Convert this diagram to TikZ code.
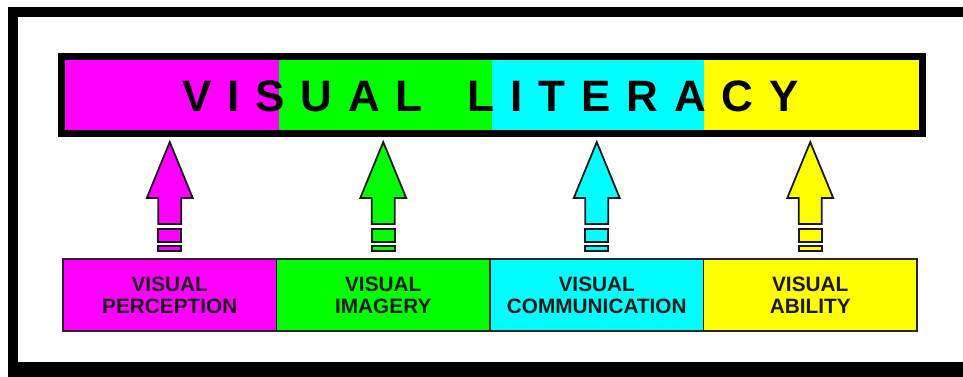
\documentclass[tikz,border=0pt]{standalone}
\usepackage{fontspec}
\setmainfont{Liberation Sans}
\usetikzlibrary{calc}
\definecolor{cMag}{RGB}{255,0,255}
\definecolor{cGrn}{RGB}{0,255,0}
\definecolor{cCyn}{RGB}{0,255,255}
\definecolor{cYel}{RGB}{255,255,0}
\tikzset{
  seg/.style={inner sep=0pt, minimum width=213.5pt, minimum height=70pt},
  box/.style={draw=black!85, line width=1.8pt, inner sep=0pt, minimum width=213.5pt, minimum height=72pt,
     align=center, font=\fontsize{20.8}{22}\selectfont\bfseries, text=black!90},
  arrline/.style={draw=black!90, line width=1.8pt, line join=miter},
}
\newcommand{\blockarr}[2]{%
  \draw[arrline, fill=#2] ($(#1.north)+(-11.5,34)$) -- ($(#1.north)+(-11.5,60)$) -- ($(#1.north)+(-23,60)$)
     -- ($(#1.north)+(0,116)$) -- ($(#1.north)+(23,60)$) -- ($(#1.north)+(11.5,60)$) -- ($(#1.north)+(11.5,34)$) -- cycle;
  \draw[arrline, fill=#2] ($(#1.north)+(-11.5,16)$) rectangle ($(#1.north)+(11.5,29)$);
  \draw[arrline, fill=#2] ($(#1.north)+(-11.5,7)$) rectangle ($(#1.north)+(11.5,12)$);
}
\begin{document}
\begin{tikzpicture}[x=1pt,y=1pt]
\useasboundingbox (0,0) rectangle (963,377);
\fill[white] (0,0) rectangle (963,377);
% outer frame
\fill[black] (8,0) rectangle (963,370);
\fill[white] (18,15) rectangle (963,360);
% top bar segments
\node[seg, fill=cMag] (t1) at (171.75,282) {};
\node[seg, fill=cGrn] (t2) at (385.25,282) {};
\node[seg, fill=cCyn] (t3) at (598.75,282) {};
\node[seg, fill=cYel, minimum width=216pt] (t4) at (812,282) {};
\draw[black, line width=7pt] (61.5,243.5) rectangle (922,320.5);
\node[anchor=base, inner sep=0pt, font=\fontsize{44}{44}\selectfont\bfseries\addfontfeature{LetterSpace=36}] (title) at (490.5,265) {VISUAL\hspace{17pt} LITERACY};
% bottom boxes
\node[box, fill=cMag] (b1) at (169.75,82) {VISUAL\\PERCEPTION};
\node[box, fill=cGrn] (b2) at (383.25,82) {VISUAL\\IMAGERY};
\node[box, fill=cCyn] (b3) at (596.75,82) {VISUAL\\COMMUNICATION};
\node[box, fill=cYel] (b4) at (810.25,82) {VISUAL\\ABILITY};
% arrows
\blockarr{b1}{cMag}
\blockarr{b2}{cGrn}
\blockarr{b3}{cCyn}
\blockarr{b4}{cYel}
\end{tikzpicture}
\end{document}
